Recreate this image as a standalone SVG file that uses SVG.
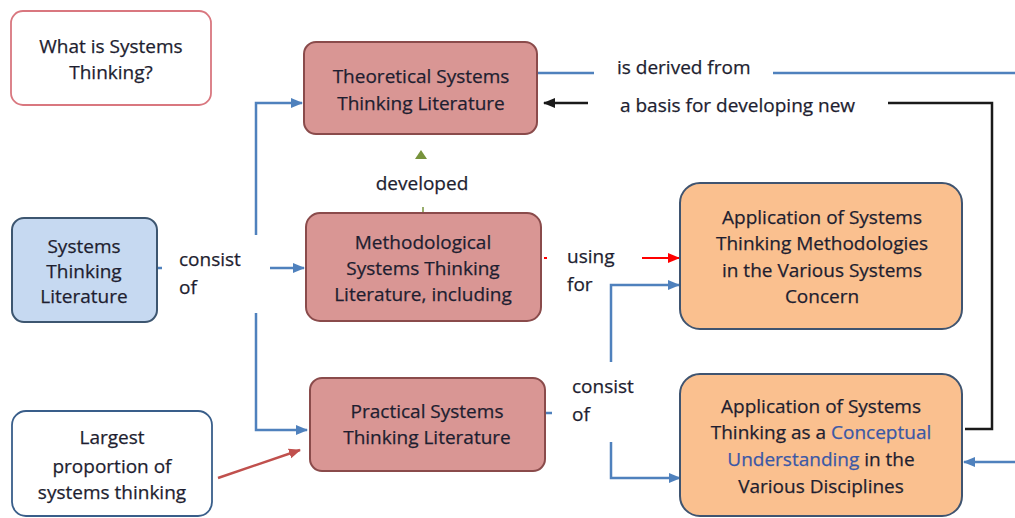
<svg xmlns="http://www.w3.org/2000/svg" width="1015" height="518" viewBox="0 0 1015 518">
<defs>
<style>
text{font-family:"Open Sans","Liberation Sans",sans-serif;font-size:19px;fill:#1e1e30;stroke:#1e1e30;stroke-width:0.25}
.c{text-anchor:middle}
.hl{fill:#3a58a6;stroke:#3a58a6}
.pink{fill:#d99694;stroke:#8a4b4b;stroke-width:2}
.orange{fill:#fac08f;stroke:#3f5470;stroke-width:2}
.blue{fill:none;stroke:#4f81bd;stroke-width:2.5}
.blk{fill:none;stroke:#1a1a1a;stroke-width:2.5}
</style>
<marker id="ab" markerUnits="userSpaceOnUse" markerWidth="12" markerHeight="12" viewBox="0 0 12 12" refX="11" refY="6" orient="auto"><path d="M0,1 L12,6 L0,11 Z" fill="#4f81bd"/></marker>
<marker id="ak" markerUnits="userSpaceOnUse" markerWidth="12" markerHeight="12" viewBox="0 0 12 12" refX="11" refY="6" orient="auto"><path d="M0,1 L12,6 L0,11 Z" fill="#1a1a1a"/></marker>
<marker id="ar" markerUnits="userSpaceOnUse" markerWidth="12" markerHeight="12" viewBox="0 0 12 12" refX="11" refY="6" orient="auto"><path d="M0,1 L12,6 L0,11 Z" fill="#ff0000"/></marker>
<marker id="ad" markerUnits="userSpaceOnUse" markerWidth="12" markerHeight="12" viewBox="0 0 12 12" refX="11" refY="6" orient="auto"><path d="M0,1 L12,6 L0,11 Z" fill="#c0504d"/></marker>
</defs>
<rect width="1015" height="518" fill="#ffffff"/>

<g id="connectors">
<path class="blue" d="M157,268 H162"/>
<path class="blue" d="M256,235 V103 H302" marker-end="url(#ab)"/>
<path class="blue" d="M256,313 V430 H307" marker-end="url(#ab)"/>
<path class="blue" d="M270,268 H304" marker-end="url(#ab)"/>
<path d="M421,150 L427,159 L415,159 Z" fill="#77933c"/>
<path d="M423,207 V213" stroke="#77933c" stroke-width="1.5"/>
<text class="c" x="422" y="190">developed</text>
<path d="M544,258 H547" stroke="#ff0000" stroke-width="2"/>
<path d="M642,258 H679" stroke="#ff0000" stroke-width="2" fill="none" marker-end="url(#ar)"/>
<path class="blue" d="M545,413 H552"/>
<path class="blue" d="M611,362 V285 H679" marker-end="url(#ab)"/>
<path class="blue" d="M611,442 V478 H680" marker-end="url(#ab)"/>
<path class="blue" d="M538,73 H594"/>
<path class="blue" d="M773,73 H1015"/>
<path class="blue" d="M1015,462 H964" marker-end="url(#ab)"/>
<path class="blk" d="M888,103 H992 V429 H965"/>
<path class="blk" d="M588,103 H544" marker-end="url(#ak)"/>
<path d="M218,478 L300,450" stroke="#c0504d" stroke-width="2.5" fill="none" marker-end="url(#ad)"/>
<text x="179" y="266">consist</text>
<text x="179" y="294">of</text>
<text x="567" y="263">using</text>
<text x="567" y="291">for</text>
<text x="572" y="393">consist</text>
<text x="572" y="421">of</text>
<text x="617" y="74">is derived from</text>
<text x="620" y="112">a basis for developing new</text>
</g>

<g id="what">
<rect x="11" y="11" width="200" height="94" rx="12" fill="#ffffff" stroke="#d9777f" stroke-width="1.8"/>
<text class="c" x="111" y="53">What is Systems</text>
<text class="c" x="111" y="79">Thinking?</text>
</g>

<g id="theoretical">
<rect x="304" y="42" width="233" height="92" rx="12" class="pink"/>
<text class="c" x="421" y="83">Theoretical Systems</text>
<text class="c" x="421" y="110">Thinking Literature</text>
</g>

<g id="stl">
<rect x="12" y="218" width="145" height="104" rx="12" fill="#c6d9f1" stroke="#3d5670" stroke-width="2"/>
<text class="c" x="84" y="253">Systems</text>
<text class="c" x="84" y="278">Thinking</text>
<text class="c" x="84" y="303">Literature</text>
</g>

<g id="methodological">
<rect x="306" y="213" width="235" height="108" rx="14" class="pink"/>
<text class="c" x="423" y="249">Methodological</text>
<text class="c" x="423" y="275">Systems Thinking</text>
<text class="c" x="423" y="301">Literature, including</text>
</g>

<g id="practical">
<rect x="310" y="378" width="235" height="93" rx="12" class="pink"/>
<text class="c" x="427" y="418">Practical Systems</text>
<text class="c" x="427" y="444">Thinking Literature</text>
</g>

<g id="largest">
<rect x="12" y="411" width="200" height="105" rx="14" fill="#ffffff" stroke="#395e8a" stroke-width="1.8"/>
<text class="c" x="112" y="444">Largest</text>
<text class="c" x="112" y="473">proportion of</text>
<text class="c" x="112" y="499">systems thinking</text>
</g>

<g id="app-methods">
<rect x="680" y="183" width="282" height="146" rx="20" class="orange"/>
<text class="c" x="822" y="224">Application of Systems</text>
<text class="c" x="822" y="250">Thinking Methodologies</text>
<text class="c" x="822" y="277">in the Various Systems</text>
<text class="c" x="822" y="303">Concern</text>
</g>

<g id="app-conceptual">
<rect x="680" y="374" width="282" height="142" rx="20" class="orange"/>
<text class="c" x="821" y="413">Application of Systems</text>
<text class="c" x="821" y="439">Thinking as a <tspan class="hl">Conceptual</tspan></text>
<text class="c" x="821" y="466"><tspan class="hl">Understanding</tspan> in the</text>
<text class="c" x="821" y="493">Various Disciplines</text>
</g>
</svg>
